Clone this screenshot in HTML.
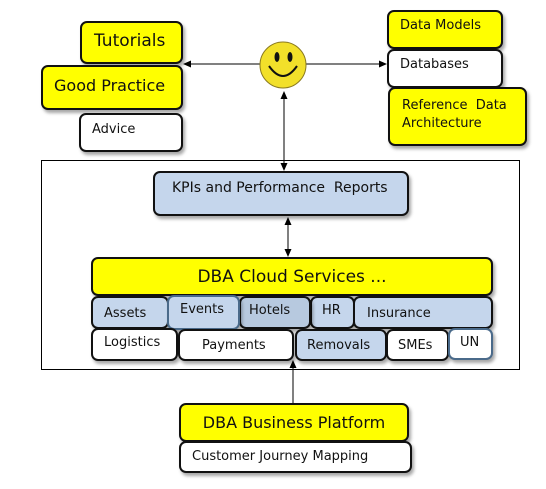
<!DOCTYPE html>
<html><head><style>
body{margin:0;width:546px;height:489px;background:#fff;position:relative;overflow:hidden;font-family:"DejaVu Sans","Liberation Sans",sans-serif;color:#111}
.b{position:absolute;box-sizing:border-box;border:2px solid #111;border-radius:7px;box-shadow:2px 3px 3px rgba(0,0,0,.35);white-space:nowrap}
.y{background:#ffff00}.w{background:#fff}.l{background:#c5d6ec}
</style></head><body>
<div style="position:absolute;left:41px;top:160px;width:479px;height:210px;border:1px solid #000;box-sizing:border-box"></div>

<div class="b y" style="left:80px;top:21px;width:103px;height:43px;font-size:17px;padding:8px 0 0 12px">Tutorials</div>
<div class="b y" style="left:41px;top:65px;width:142px;height:45px;font-size:16px;padding:9px 0 0 11px">Good Practice</div>
<div class="b w" style="left:79px;top:113px;width:104px;height:39px;font-size:13px;padding:7px 0 0 11px">Advice</div>

<div class="b y" style="left:387px;top:10px;width:116px;height:39px;font-size:13px;padding:6px 0 0 11px">Data Models</div>
<div class="b w" style="left:387px;top:49px;width:116px;height:39px;font-size:13px;padding:6px 0 0 11px">Databases</div>
<div class="b y" style="left:388px;top:87px;width:139px;height:59px;font-size:13px;padding:8px 0 0 12px;line-height:18px">Reference&nbsp; Data<br>Architecture</div>

<div class="b l" style="left:153px;top:171px;width:256px;height:45px;font-size:14px;padding:7px 0 0 17px">KPIs and Performance&nbsp; Reports</div>

<div class="b y" style="left:91px;top:257px;width:402px;height:39px;font-size:17px;padding:8px 0 0 0;text-align:center">DBA Cloud Services ...</div>
<div class="b l" style="left:91px;top:296px;width:78px;height:33px;font-size:13px;padding:8px 0 0 11px">Assets</div>
<div class="b l" style="left:310px;top:296px;width:45px;height:33px;font-size:13px;padding:5px 0 0 10px">HR</div>
<div class="b l" style="left:353px;top:296px;width:140px;height:33px;font-size:13px;padding:8px 0 0 12px">Insurance</div>
<div class="b" style="left:239px;top:296px;width:72px;height:33px;font-size:13px;padding:5px 0 0 8px;background:#b7c9df">Hotels</div>
<div class="b l" style="left:167px;top:295px;width:73px;height:35px;font-size:13px;padding:5px 0 0 11px;border-color:#4a6a8a">Events</div>

<div class="b w" style="left:91px;top:328px;width:87px;height:33px;font-size:13px;padding:5px 0 0 11px">Logistics</div>
<div class="b w" style="left:178px;top:329px;width:116px;height:32px;font-size:13px;padding:7px 0 0 22px">Payments</div>
<div class="b l" style="left:295px;top:329px;width:92px;height:32px;font-size:13px;padding:7px 0 0 10px">Removals</div>
<div class="b w" style="left:386px;top:329px;width:63px;height:32px;font-size:13px;padding:7px 0 0 10px">SMEs</div>
<div class="b w" style="left:448px;top:328px;width:45px;height:32px;font-size:13px;padding:5px 0 0 10px;border-color:#4a6a8a">UN</div>

<div class="b y" style="left:179px;top:403px;width:230px;height:39px;font-size:16px;padding:8px 0 0 0;text-align:center">DBA Business Platform</div>
<div class="b w" style="left:179px;top:441px;width:233px;height:32px;font-size:13px;padding:6px 0 0 11px">Customer Journey Mapping</div>

<svg width="546" height="489" style="position:absolute;left:0;top:0" viewBox="0 0 546 489">
<defs><marker id="a" markerWidth="8" markerHeight="8" refX="7" refY="4" orient="auto" markerUnits="userSpaceOnUse"><path d="M0,0.5 L8,4 L0,7.5z" fill="#000"/></marker></defs>
<line x1="261" y1="64" x2="184" y2="64" stroke="#000" marker-end="url(#a)"/>
<line x1="306" y1="64" x2="386" y2="64" stroke="#000" marker-end="url(#a)"/>
<line x1="284" y1="100" x2="284" y2="92" stroke="#000" marker-end="url(#a)"/>
<line x1="284" y1="92" x2="284" y2="170" stroke="#000" marker-end="url(#a)"/>
<line x1="288" y1="225" x2="288" y2="218" stroke="#000" marker-end="url(#a)"/>
<line x1="288" y1="218" x2="288" y2="256" stroke="#000" marker-end="url(#a)"/>
<line x1="293" y1="403" x2="293" y2="361" stroke="#000" marker-end="url(#a)"/>
<circle cx="283" cy="65" r="23" fill="#f2e02a" stroke="#8a7a20" stroke-width="1"/>
<ellipse cx="277" cy="57" rx="2.5" ry="5" fill="#111"/>
<ellipse cx="290" cy="57" rx="2.5" ry="5" fill="#111"/>
<path d="M269,66 Q283,86 297,66" fill="none" stroke="#111" stroke-width="2"/>
</svg>
</body></html>
